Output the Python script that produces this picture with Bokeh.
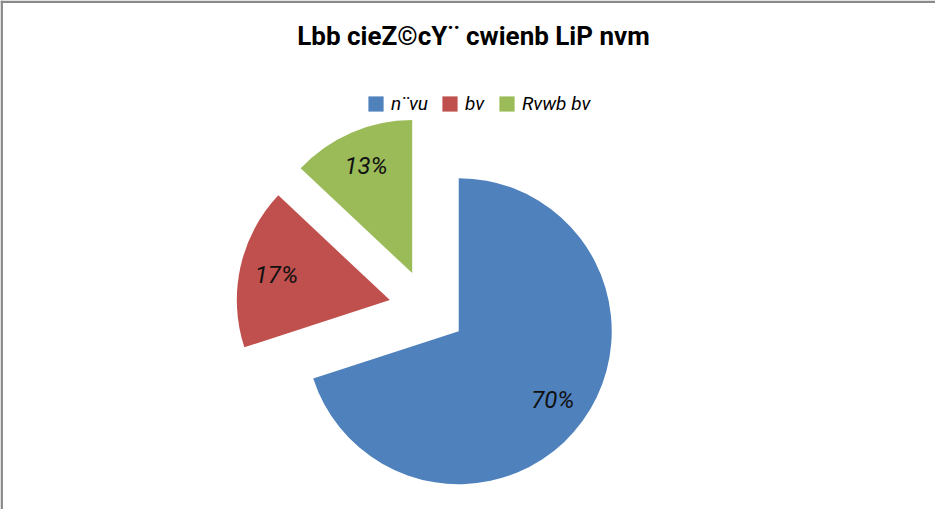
import numpy as np
from bokeh.plotting import figure
from bokeh.models import ColumnDataSource, Range1d, Legend, LegendItem, Label, Span
from bokeh.core.properties import value
from bokeh.embed import file_html
from bokeh.resources import INLINE

# ---- data ----
title_text = "Lbb cieZ©cY¨ cwienb LiP nvm"
categories = ["n¨vu", "bv", "Rvwb bv"]
shares = [70, 17, 13]
pct_labels = ["70%", "17%", "13%"]
colors = ["#4f81bd", "#c0504d", "#9bbb59"]

# ---- layout (1 data unit = 1 pixel) ----
W, H = 935, 509
cx, cy = 427, 201
R = 153
explode = 38.6
label_frac = 0.76

frac = np.array(shares, dtype=float) / sum(shares)
cum = np.concatenate([[0.0], np.cumsum(frac)])
start = np.deg2rad(90 - 360 * cum[1:])
end = np.deg2rad(90 - 360 * cum[:-1])
mid = (start + end) / 2
ox = cx + explode * np.cos(mid)
oy = cy + explode * np.sin(mid)
lx = ox + label_frac * R * np.cos(mid)
ly = oy + label_frac * R * np.sin(mid)

src = ColumnDataSource(dict(x=ox, y=oy, start=start, end=end, color=colors,
                            cat=categories, lx=lx, ly=ly, pct=pct_labels))

p = figure(width=W, height=H, x_range=Range1d(0, W), y_range=Range1d(0, H),
           output_backend="svg", toolbar_location=None, min_border=0,
           x_axis_type=None, y_axis_type=None, outline_line_color=None)
p.grid.visible = False

r = p.wedge(x="x", y="y", radius=R, start_angle="start", end_angle="end",
            fill_color="color", line_color=None, source=src)

p.text(x="lx", y="ly", text="pct", source=src, text_align="center",
       text_baseline="middle", text_font=value("Roboto"), text_font_style="italic",
       text_font_size="24px", text_color="#111111")

# chart border (top and left visible)
p.add_layout(Span(location=H - 1.3, dimension="width", line_color="#8a8a8a", line_width=2.5))
p.add_layout(Span(location=1.2, dimension="height", line_color="#8a8a8a", line_width=2.5))

# title
p.add_layout(Label(x=473, y=474, text=title_text, text_align="center",
                   text_baseline="middle", text_font="Roboto",
                   text_font_style="bold", text_font_size="26px", text_color="#000000"))

legend = Legend(items=[LegendItem(label=categories[i], renderers=[r], index=i) for i in range(3)],
                orientation="horizontal", location=(366, 394),
                label_text_font="Roboto", label_text_font_style="italic",
                label_text_font_size="19px", label_text_color="#000000",
                glyph_width=19, glyph_height=19, label_standoff=6, spacing=12,
                padding=0, margin=0, border_line_color=None, background_fill_alpha=0)
p.add_layout(legend, "center")

open("out.html", "w").write(file_html(p, INLINE))
